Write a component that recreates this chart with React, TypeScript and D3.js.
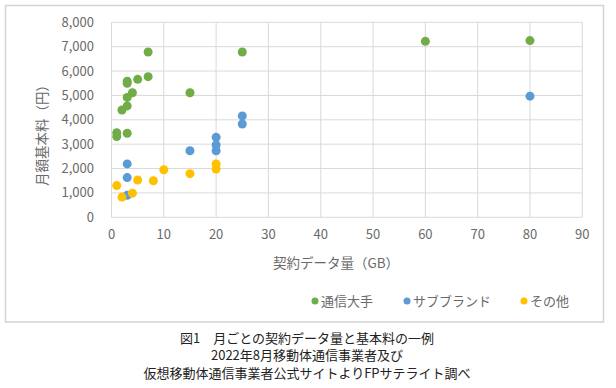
import { useEffect, useRef } from 'react'
import * as d3 from 'd3'

const seriesNames = ['通信大手', 'サブブランド', 'その他']
const seriesColors = ['#70AD47', '#5B9BD5', '#FFC000']

// 通信大手
const majorGB = [1, 1, 2, 3, 3, 3, 3, 3, 4, 5, 7, 7, 15, 25, 60, 80]
const majorYen = [3470, 3310, 4400, 4570, 4920, 5500, 5580, 3450, 5110, 5660, 5770, 6780, 5110, 6780, 7220, 7250]
// サブブランド
const subGB = [3, 3, 3, 15, 20, 20, 20, 25, 25, 80]
const subYen = [2190, 1630, 900, 2730, 3280, 2970, 2730, 4160, 3830, 4970]
// その他
const otherGB = [1, 2, 4, 5, 8, 10, 15, 20, 20]
const otherYen = [1300, 830, 990, 1530, 1500, 1950, 1790, 2190, 1980]

const xTicks = [0, 10, 20, 30, 40, 50, 60, 70, 80, 90]
const yTicks = [0, 1000, 2000, 3000, 4000, 5000, 6000, 7000, 8000]

const captionLines = [
  '図1　月ごとの契約データ量と基本料の一例',
  '2022年8月移動体通信事業者及び',
  '仮想移動体通信事業者公式サイトよりFPサテライト調べ',
]

const FONT = '"Noto Sans CJK JP", "Noto Sans", sans-serif'
const TEXT_GRAY = '#6a6a6a'

function App() {
  const ref = useRef(null)

  useEffect(() => {
    const width = 616
    const height = 388
    const svg = d3.select(ref.current).append('svg')
      .attr('width', width)
      .attr('height', height)
      .style('position', 'absolute')
      .style('left', 0)
      .style('top', 0)
      .style('font-family', FONT)

    svg.append('rect').attr('width', width).attr('height', height).attr('fill', '#fff')

    // chart frame
    svg.append('rect')
      .attr('x', 5.5).attr('y', 5.5)
      .attr('width', 598).attr('height', 316.5)
      .attr('fill', 'none')
      .attr('stroke', '#d4d4d4')
      .attr('stroke-width', 1.5)

    const x = d3.scaleLinear().domain([0, 90]).range([111.5, 582.3])
    const y = d3.scaleLinear().domain([0, 8000]).range([217.3, 22.3])

    const grid = svg.append('g').attr('stroke', '#d9d9d9').attr('stroke-width', 1)
    grid.selectAll('.v').data(xTicks).join('line')
      .attr('x1', (d) => x(d)).attr('x2', (d) => x(d))
      .attr('y1', y(0)).attr('y2', y(8000))
    grid.selectAll('.h').data(yTicks).join('line')
      .attr('class', 'h')
      .attr('x1', x(0)).attr('x2', x(90))
      .attr('y1', (d) => y(d)).attr('y2', (d) => y(d))

    const fmt = d3.format(',')
    svg.append('g').selectAll('text').data(yTicks).join('text')
      .attr('x', 94)
      .attr('y', (d) => y(d))
      .attr('dy', '0.35em')
      .attr('text-anchor', 'end')
      .attr('font-size', 13)
      .attr('fill', TEXT_GRAY)
      .text((d) => fmt(d))

    svg.append('g').selectAll('text').data(xTicks).join('text')
      .attr('x', (d) => x(d))
      .attr('y', 234)
      .attr('dy', '0.35em')
      .attr('text-anchor', 'middle')
      .attr('font-size', 13)
      .attr('fill', TEXT_GRAY)
      .text((d) => d)

    svg.append('text')
      .attr('x', 336).attr('y', 263).attr('dy', '0.35em')
      .attr('text-anchor', 'middle')
      .attr('font-size', 13.5)
      .attr('fill', TEXT_GRAY)
      .text('契約データ量（GB）')

    svg.append('text')
      .attr('transform', `translate(42,132) rotate(-90)`)
      .attr('dy', '0.35em')
      .attr('text-anchor', 'middle')
      .attr('font-size', 13.5)
      .attr('fill', TEXT_GRAY)
      .text('月額基本料（円）')

    const series = [
      { gb: majorGB, yen: majorYen },
      { gb: subGB, yen: subYen },
      { gb: otherGB, yen: otherYen },
    ]
    series.forEach((s, i) => {
      const pts = s.gb.map((g, j) => [g, s.yen[j]])
      svg.append('g').selectAll('circle').data(pts).join('circle')
        .attr('cx', (d) => x(d[0]))
        .attr('cy', (d) => y(d[1]))
        .attr('r', 4.5)
        .attr('fill', seriesColors[i])
    })

    // legend
    const legendX = [315, 407, 524]
    const legend = svg.append('g')
    seriesNames.forEach((name, i) => {
      legend.append('circle')
        .attr('cx', legendX[i]).attr('cy', 301)
        .attr('r', 3.5)
        .attr('fill', seriesColors[i])
      legend.append('text')
        .attr('x', legendX[i] + 6).attr('y', 301).attr('dy', '0.35em')
        .attr('font-size', 13)
        .attr('fill', TEXT_GRAY)
        .text(name)
    })

    svg.append('g').selectAll('text').data(captionLines).join('text')
      .attr('x', 307)
      .attr('y', (d, i) => 338 + i * 17.5)
      .attr('dy', '0.35em')
      .attr('text-anchor', 'middle')
      .attr('font-size', 13)
      .attr('fill', '#222')
      .text((d) => d)

    return () => {
      svg.remove()
    }
  }, [])

  return <div ref={ref} />
}

export default App
